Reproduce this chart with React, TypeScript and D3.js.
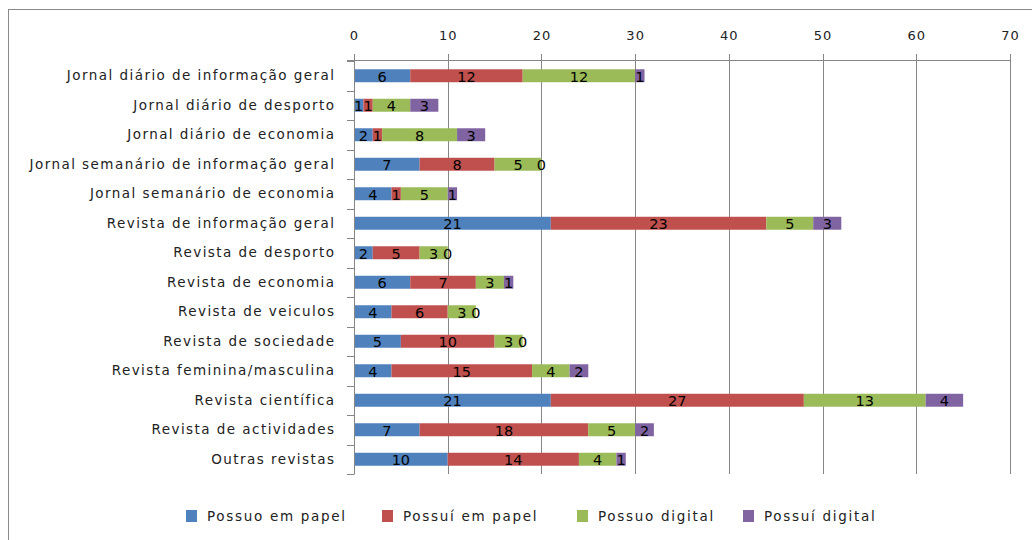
import React from "react";
import * as d3 from "d3";

const categories = [
  "Jornal diário de informação geral",
  "Jornal diário de desporto",
  "Jornal diário de economia",
  "Jornal semanário de informação geral",
  "Jornal semanário de economia",
  "Revista de informação geral",
  "Revista de desporto",
  "Revista de economia",
  "Revista de veiculos",
  "Revista de sociedade",
  "Revista feminina/masculina",
  "Revista científica",
  "Revista de actividades",
  "Outras revistas",
];

const seriesNames = ["Possuo em papel", "Possuí em papel", "Possuo digital", "Possuí digital"];
const possuoPapel = [6, 1, 2, 7, 4, 21, 2, 6, 4, 5, 4, 21, 7, 10];
const possuiPapel = [12, 1, 1, 8, 1, 23, 5, 7, 6, 10, 15, 27, 18, 14];
const possuoDigital = [12, 4, 8, 5, 5, 5, 3, 3, 3, 3, 4, 13, 5, 4];
const possuiDigital = [1, 3, 3, 0, 1, 3, 0, 1, 0, 0, 2, 4, 2, 1];
const xTicks = [0, 10, 20, 30, 40, 50, 60, 70];
const colors = ["#4F81BD", "#C0504D", "#9BBB59", "#8064A2"];

const W = 1032;
const H = 540;
const plotLeft = 354;
const plotRight = 1010;
const plotTop = 61;
const plotBottom = 474;
const FONT = "'DejaVu Sans', sans-serif";

export default function App() {
  const rows = categories.map((c, i) => ({
    cat: c,
    s0: possuoPapel[i],
    s1: possuiPapel[i],
    s2: possuoDigital[i],
    s3: possuiDigital[i],
  }));
  const keys = ["s0", "s1", "s2", "s3"];
  const stacked = d3.stack<any>().keys(keys)(rows);

  const x = d3.scaleLinear().domain([0, 70]).range([plotLeft, plotRight]);
  const y = d3
    .scaleBand<string>()
    .domain(categories)
    .range([plotTop, plotBottom])
    .paddingInner(0.56)
    .paddingOuter(0.28);
  const step = y.step();
  const boundaries = d3.range(categories.length + 1).map((i) => plotTop + i * step);

  const legendOffsets = [186, 382, 577, 743];

  const grid = "#868686";

  return (
    <svg
      width={W}
      height={H}
      style={{ position: "absolute", left: 0, top: 0, background: "#fff" }}
      fontFamily={FONT}
    >
      <rect x={8.5} y={9.5} width={1100} height={600} fill="#fff" stroke="#8a8a8a" strokeWidth={1} />
      {/* gridlines */}
      {xTicks.map((t) => (
        <line
          key={"g" + t}
          x1={Math.round(x(t)) + 0.5}
          x2={Math.round(x(t)) + 0.5}
          y1={plotTop - 7}
          y2={plotBottom}
          stroke={grid}
          strokeWidth={1}
        />
      ))}
      {/* top axis line */}
      <line x1={plotLeft - 7} x2={plotRight + 0.5} y1={plotTop - 0.5} y2={plotTop - 0.5} stroke={grid} strokeWidth={1} />
      {/* category ticks */}
      {boundaries.map((b, i) => (
        <line
          key={"ct" + i}
          x1={plotLeft - 7}
          x2={plotLeft}
          y1={Math.round(b) + 0.5}
          y2={Math.round(b) + 0.5}
          stroke={grid}
          strokeWidth={1}
        />
      ))}
      {/* tick labels */}
      {xTicks.map((t) => (
        <text
          key={"tl" + t}
          x={x(t) + 0.5}
          y={40}
          textAnchor="middle"
          fontSize={13}
          fill="#222"
          letterSpacing={1}
        >
          {t}
        </text>
      ))}
      {/* category labels */}
      {categories.map((c) => (
        <text
          key={"cl" + c}
          x={335.5}
          y={(y(c) as number) + y.bandwidth() / 2}
          dy="0.35em"
          textAnchor="end"
          fontSize={13.5}
          fill="#222"
          letterSpacing={1.45}
        >
          {c}
        </text>
      ))}
      {/* bars */}
      {stacked.map((layer, si) => (
        <g key={"s" + si} fill={colors[si]}>
          {layer.map((d, i) => (
            <rect
              key={i}
              x={x(d[0])}
              width={x(d[1]) - x(d[0])}
              y={y(categories[i]) as number}
              height={y.bandwidth()}
            />
          ))}
        </g>
      ))}
      {/* value labels */}
      {stacked.map((layer, si) => (
        <g key={"v" + si}>
          {layer.map((d, i) => (
            <text
              key={i}
              x={(x(d[0]) + x(d[1])) / 2}
              y={(y(categories[i]) as number) + y.bandwidth() / 2}
              dy="0.4em"
              textAnchor="middle"
              fontSize={14.5}
              fill="#000"
            >
              {d[1] - d[0]}
            </text>
          ))}
        </g>
      ))}
      {/* vertical axis line */}
      <line x1={plotLeft + 0.5} x2={plotLeft + 0.5} y1={plotTop - 7} y2={plotBottom + 0.5} stroke={grid} strokeWidth={1} />
      {/* legend */}
      {seriesNames.map((s, i) => (
        <g key={"lg" + s} transform={`translate(${legendOffsets[i]},${516})`}>
          <rect x={0} y={-6} width={11} height={12} fill={colors[i]} />
          <text x={21} y={0} dy="0.35em" fontSize={13.5} fill="#222" letterSpacing={1.7}>
            {s}
          </text>
        </g>
      ))}
    </svg>
  );
}
